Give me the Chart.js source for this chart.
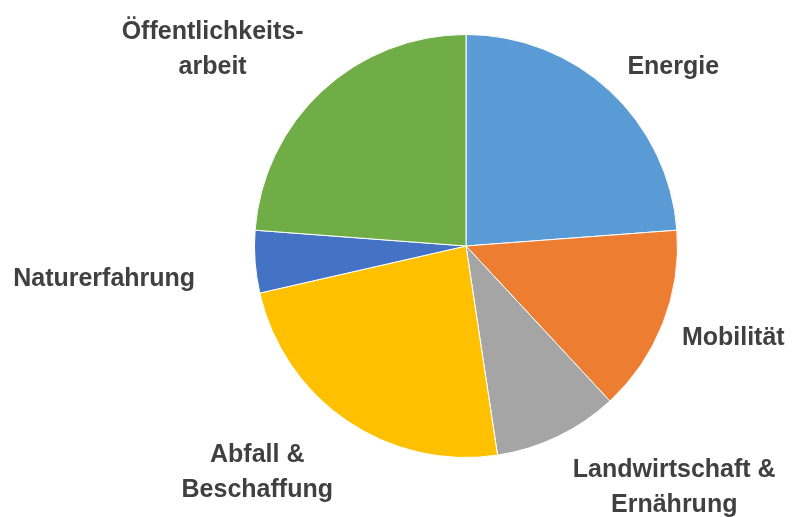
<!DOCTYPE html>
<html>
<head>
<meta charset="utf-8">
<script src="https://cdn.jsdelivr.net/npm/chart.js@4.4.1/dist/chart.umd.min.js"></script>
<style>
  html, body { margin: 0; padding: 0; background: #fff; }
  #wrap { width: 800px; height: 517px; }
</style>
</head>
<body>
<div id="wrap"><canvas id="pieChart" width="800" height="517"></canvas></div>
<script>
const categories = ["Energie", "Mobilität", "Landwirtschaft &\nErnährung", "Abfall &\nBeschaffung", "Naturerfahrung", "Öffentlichkeits-\narbeit"];
const values = [5, 3, 2, 5, 1, 5];
const colors = ["#5B9BD5", "#ED7D31", "#A5A5A5", "#FFC000", "#4472C4", "#70AD47"];

// etiquetas afuera del pastel, como en Excel
const outsideLabels = {
    id: 'outsideLabels',
    afterDatasetsDraw(chart, args, opts) {
        const ctx = chart.ctx;
        const arcs = chart.getDatasetMeta(0).data;
        ctx.save();
        ctx.font = opts.font;
        ctx.fillStyle = opts.color;
        ctx.textBaseline = 'middle';
        ctx.textAlign = 'center';
        arcs.forEach((arc, i) => {
            const p = arc.getProps(['x', 'y', 'startAngle', 'endAngle', 'outerRadius'], true);
            const mid = (p.startAngle + p.endAngle) / 2;
            const cx = Math.cos(mid), cy = Math.sin(mid);
            const r = p.outerRadius + opts.gap;
            const nudge = opts.nudge[i] || [0, 0];
            const ax = p.x + cx * r + nudge[0];
            const ay = p.y + cy * r + nudge[1];
            const lines = chart.data.labels[i].split('\n');
            const w = Math.max(...lines.map(l => ctx.measureText(l).width));
            const h = lines.length * opts.lineHeight;
            let left = ax - w / 2;
            if (cx > 0.3) left = ax + opts.hGap;
            else if (cx < -0.3) left = ax - w - opts.hGap;
            let top = ay - h / 2;
            if (cy < -0.5) top = ay - h;
            else if (cy > 0.5) top = ay;
            lines.forEach((line, j) => {
                ctx.fillText(line, left + w / 2, top + opts.lineHeight * (j + 0.5));
            });
        });
        ctx.restore();
    }
};

const ctx = document.getElementById('pieChart').getContext('2d');
new Chart(ctx, {
    type: 'pie',
    data: {
        labels: categories,
        datasets: [{
            data: values,
            backgroundColor: colors,
            borderColor: '#ffffff',
            borderWidth: 1
        }]
    },
    options: {
        responsive: false,
        animation: false,
        layout: {
            padding: { left: 254, right: 122, top: 34, bottom: 59 }
        },
        plugins: {
            legend: { display: false },
            tooltip: { enabled: false },
            outsideLabels: {
                font: 'bold 25px "Liberation Sans", Arial, sans-serif',
                color: '#404040',
                gap: 14,
                hGap: 6,
                lineHeight: 35,
                nudge: [[2, 4], [0, 10], [3, 3], [0, 5], [-40, 16], [-3, 4]]
            }
        }
    },
    plugins: [outsideLabels]
});
</script>
</body>
</html>
